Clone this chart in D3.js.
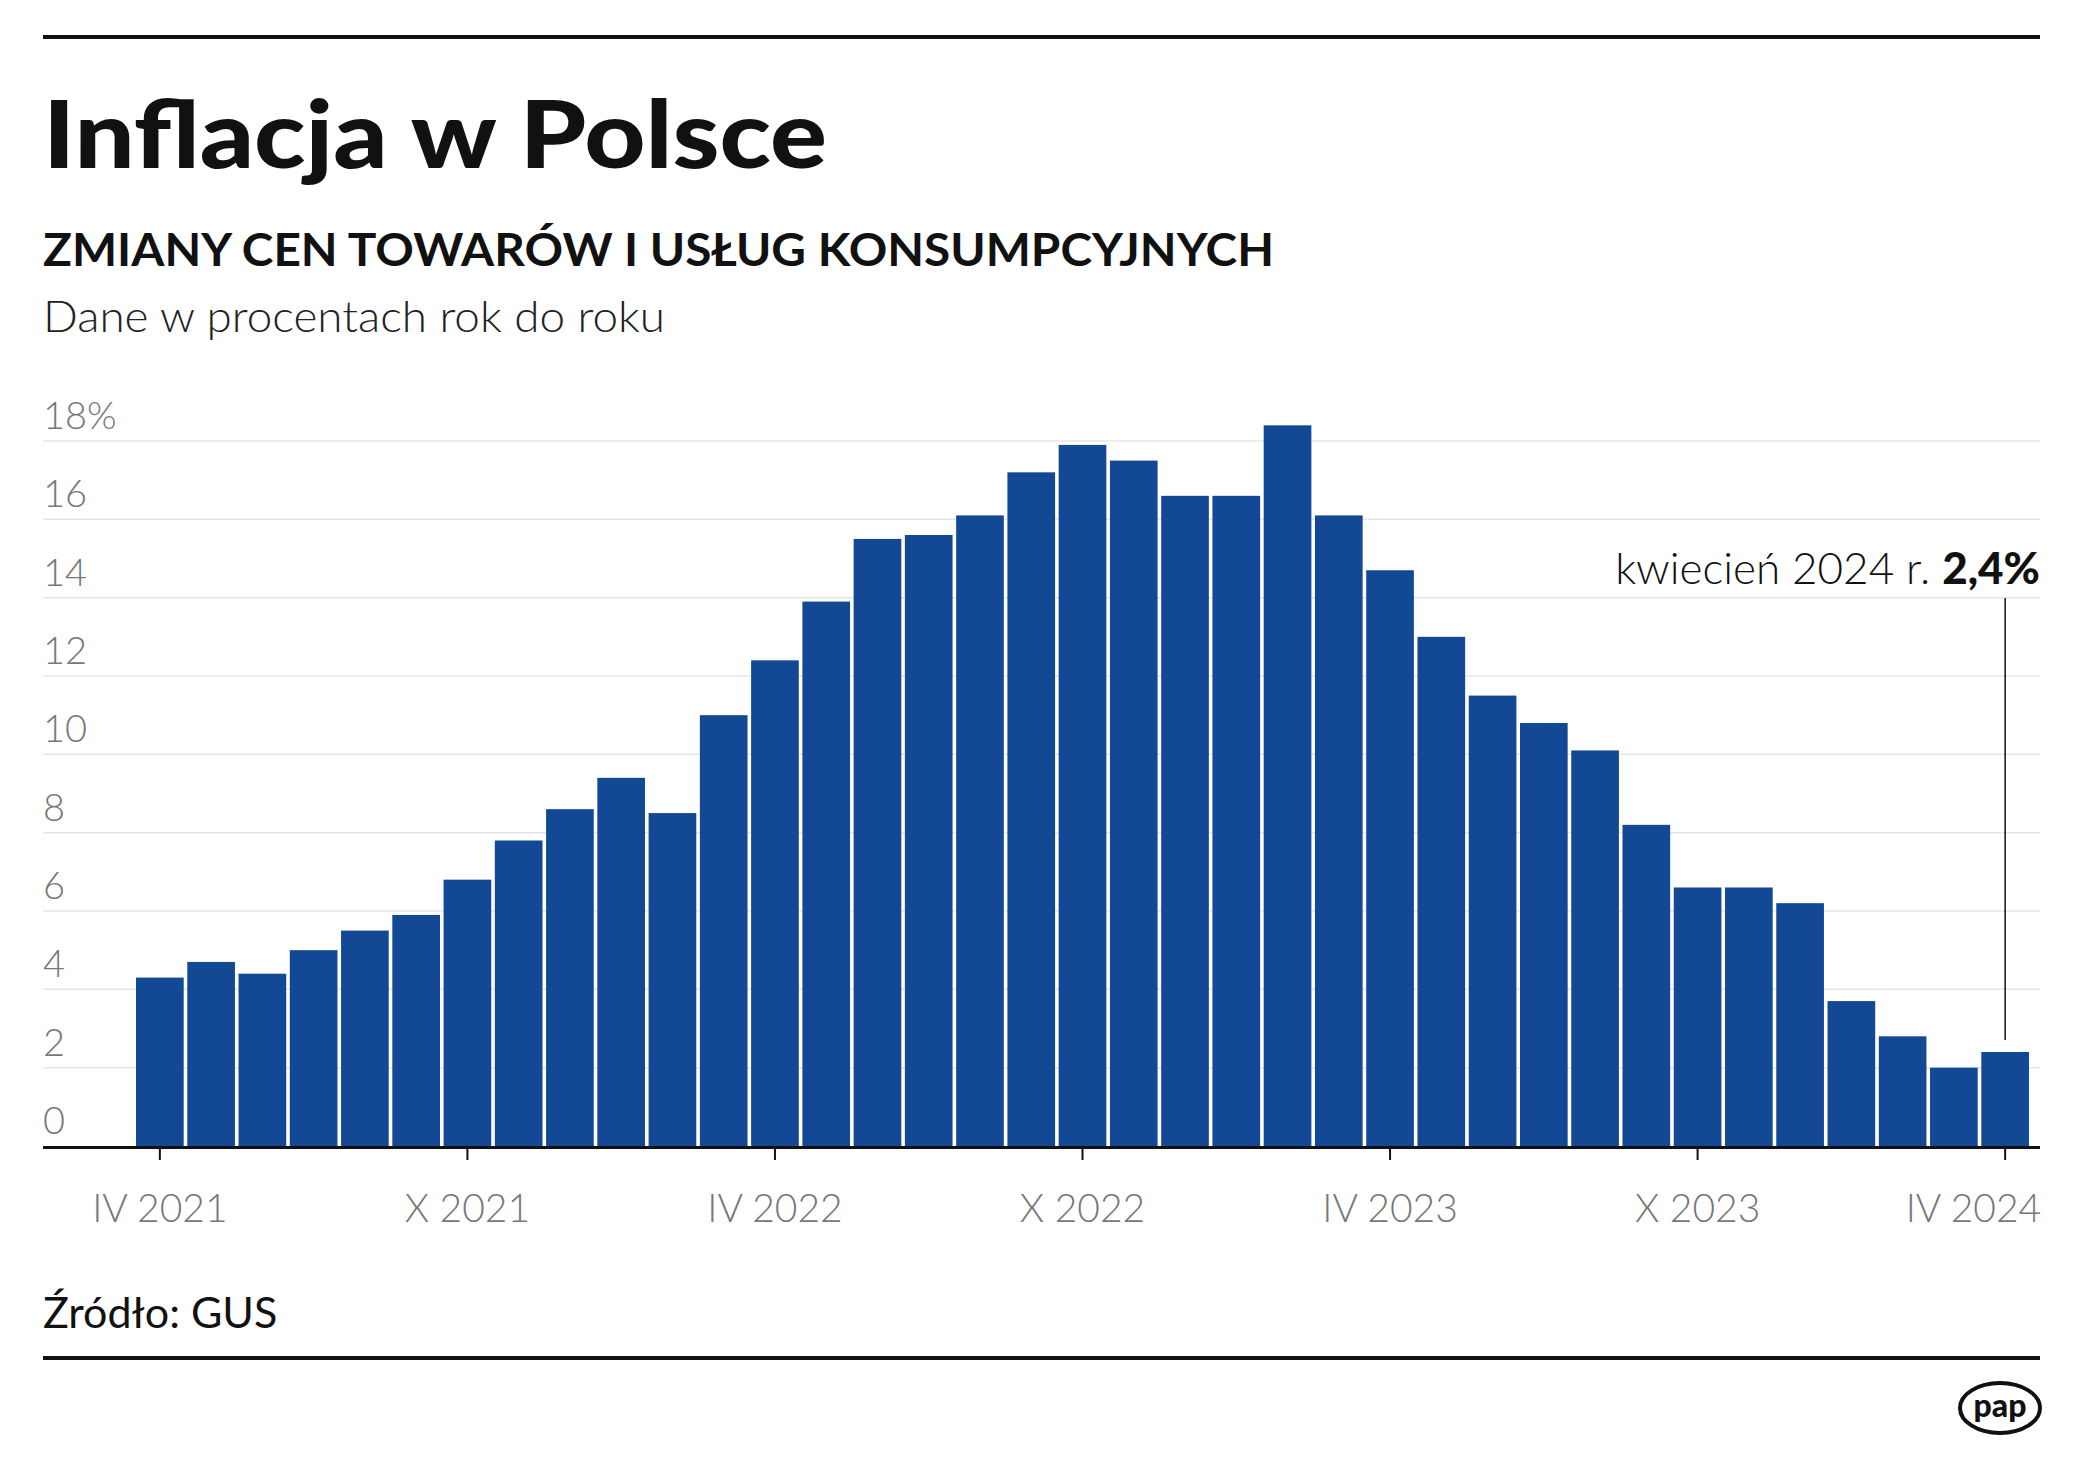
<!DOCTYPE html>
<html>
<head>
<meta charset="utf-8">
<script src="https://d3js.org/d3.v7.min.js"></script>
<style>
  body { margin: 0; background: #fff; font-family: 'Lato', 'Noto Sans', sans-serif; }
</style>
</head>
<body>
<svg id="chart" width="2084" height="1459"></svg>
<script>
// data: CPI y/y, April 2021 - April 2024
var months = ["IV 2021","V","VI","VII","VIII","IX","X 2021","XI","XII",
  "I","II","III","IV 2022","V","VI","VII","VIII","IX","X 2022","XI","XII",
  "I","II","III","IV 2023","V","VI","VII","VIII","IX","X 2023","XI","XII",
  "I","II","III","IV 2024"];
var values = [4.3,4.7,4.4,5.0,5.5,5.9,6.8,7.8,8.6,9.4,8.5,11.0,12.4,13.9,15.5,15.6,16.1,17.2,17.9,17.5,16.6,16.6,18.4,16.1,14.7,13.0,11.5,10.8,10.1,8.2,6.6,6.6,6.2,3.7,2.8,2.0,2.4];
var yTicks = [0,2,4,6,8,10,12,14,16,18];
var xLabels = ["IV 2021","X 2021","IV 2022","X 2022","IV 2023","X 2023","IV 2024"];

var svg = d3.select("#chart");
var left = 43, right = 2040;

// header rules and text
svg.append("rect").attr("x", left).attr("y", 35).attr("width", right - left).attr("height", 4).attr("fill", "#111");
svg.append("text").attr("x", left).attr("y", 168).attr("font-size", 94).attr("font-weight", 900).attr("fill", "#111")
  .attr("textLength", 784).attr("lengthAdjust", "spacingAndGlyphs").text("Inflacja w Polsce");
svg.append("text").attr("x", left).attr("y", 266).attr("font-size", 46).attr("font-weight", 700).attr("fill", "#111")
  .attr("textLength", 1231).attr("lengthAdjust", "spacingAndGlyphs").text("ZMIANY CEN TOWARÓW I USŁUG KONSUMPCYJNYCH");
svg.append("text").attr("x", left).attr("y", 332).attr("font-size", 44).attr("font-weight", 300).attr("fill", "#222")
  .attr("textLength", 622).attr("lengthAdjust", "spacingAndGlyphs").text("Dane w procentach rok do roku");

var x = d3.scaleBand().domain(d3.range(values.length)).range([135, 2030]).paddingInner(0.07).paddingOuter(0.02);
var y = d3.scaleLinear().domain([0, 18]).range([1146, 441]);

// gridlines + y labels
svg.selectAll(".grid").data(yTicks.slice(1)).enter().append("line")
  .attr("x1", left).attr("x2", right).attr("y1", d => y(d)).attr("y2", d => y(d))
  .attr("stroke", "#e6e6e6").attr("stroke-width", 1.5);
svg.selectAll(".ylab").data(yTicks).enter().append("text")
  .attr("x", left).attr("y", d => y(d) - 12)
  .attr("font-size", 38).attr("font-weight", 300).attr("fill", "#777")
  .text(d => d === 18 ? "18%" : d);

// bars
svg.selectAll(".bar").data(values).enter().append("rect")
  .attr("x", (d, i) => x(i)).attr("width", x.bandwidth())
  .attr("y", d => y(d)).attr("height", d => y(0) - y(d))
  .attr("fill", "#134895");

// x axis
svg.append("rect").attr("x", left).attr("y", y(0)).attr("width", right - left).attr("height", 3).attr("fill", "#111");
var labelled = months.map((m, i) => xLabels.indexOf(m) >= 0 ? i : -1).filter(i => i >= 0);
svg.selectAll(".tick").data(labelled).enter().append("line")
  .attr("x1", i => x(i) + x.bandwidth() / 2).attr("x2", i => x(i) + x.bandwidth() / 2)
  .attr("y1", y(0)).attr("y2", y(0) + 14).attr("stroke", "#111").attr("stroke-width", 2);
svg.selectAll(".xlab").data(labelled).enter().append("text")
  .attr("x", i => x(i) + x.bandwidth() / 2).attr("y", 1222)
  .attr("text-anchor", (i, k) => k === labelled.length - 1 ? "end" : "middle")
  .attr("dx", (i, k) => k === labelled.length - 1 ? 36 : 0)
  .attr("font-size", 39).attr("font-weight", 300).attr("fill", "#777")
  .text(i => months[i]);

// annotation
var last = values.length - 1, lx = x(last) + x.bandwidth() / 2;
svg.append("line").attr("x1", lx).attr("x2", lx).attr("y1", 598).attr("y2", y(values[last]) - 12)
  .attr("stroke", "#111").attr("stroke-width", 1.5);
var ann = svg.append("text").attr("x", right).attr("y", 584).attr("text-anchor", "end").attr("font-size", 44).attr("fill", "#111");
ann.append("tspan").attr("font-weight", 300).text("kwiecień 2024 r. ");
ann.append("tspan").attr("font-weight", 900).text("2,4%");

// footer
svg.append("text").attr("x", left).attr("y", 1328).attr("font-size", 43).attr("font-weight", 400).attr("fill", "#111").text("Źródło: GUS");
svg.append("rect").attr("x", left).attr("y", 1356).attr("width", right - left).attr("height", 4).attr("fill", "#111");
var logo = svg.append("g").attr("transform", "translate(2000,1408)");
logo.append("ellipse").attr("rx", 40).attr("ry", 25).attr("fill", "#fff").attr("stroke", "#111").attr("stroke-width", 4);
logo.append("text").attr("y", 9).attr("text-anchor", "middle").attr("font-size", 32).attr("font-weight", 900).attr("fill", "#111").text("pap");
</script>
</body>
</html>
